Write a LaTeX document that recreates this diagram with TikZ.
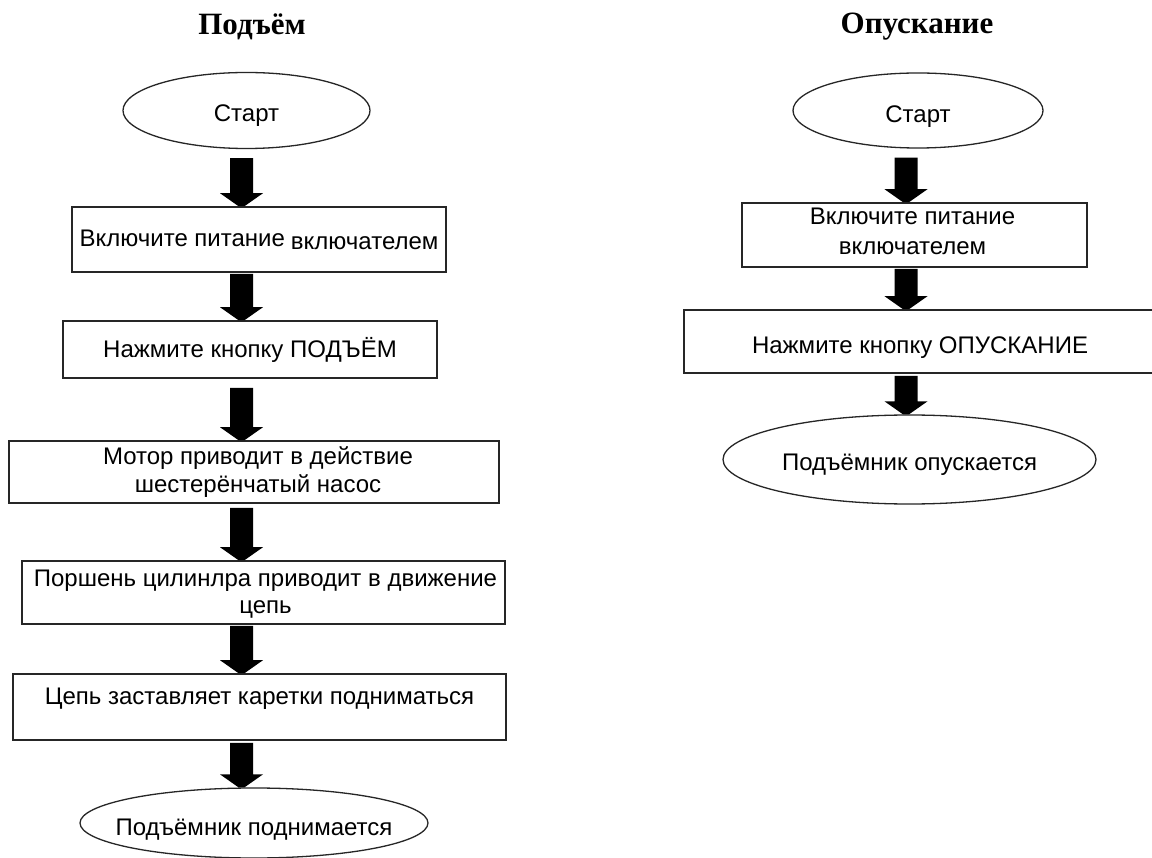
\documentclass[tikz,border=0pt]{standalone}
\usepackage{fontspec}
\setmainfont{Liberation Serif}
\newfontfamily\arialf{Liberation Sans}
\usetikzlibrary{shapes.geometric,calc}
% block arrow from node #1 to node #2 along vertical through coordinate #3, starting #4 below #1
\newcommand\flowarrow[4]{%
  \fill let \p1=(#1.south -| #3), \p2=(#2.north -| #3) in
    (\x1-11.5pt,\y1-#4) -- (\x1+11.5pt,\y1-#4) -- (\x1+11.5pt,\y2+13pt)
    -- (\x1+21.5pt,\y2+13pt) -- (\x1+3pt,\y2) -- (\x1-3pt,\y2)
    -- (\x1-21.5pt,\y2+13pt) -- (\x1-11.5pt,\y2+13pt) -- cycle;}
\newcommand\twolines[2]{\begin{tabular}[t]{@{}c@{}}#1\\#2\end{tabular}}
\begin{document}
\begin{tikzpicture}[x=1pt,y=-1pt,
  stepbox/.style={draw=black!85,line width=1.6pt,rectangle,inner sep=0pt},
  term/.style={draw=black!85,line width=1.3pt,ellipse,inner sep=0pt},
  lbl/.style={anchor=base,inner sep=0pt,font=\arialf\fontsize{24}{28}\selectfont},
  ttl/.style={font=\bfseries\fontsize{31}{36}\selectfont}]
\useasboundingbox (0,0) rectangle (1152,858);
\fill[white] (0,0) rectangle (1152,858);
% left column
\node[ttl] (t1) at (252,27) {Подъём};
\node[term,minimum width=247pt,minimum height=76pt] (l0) at (246.5,110.5) {};
\node[lbl] (l0t) at ($(l0.center)+(0,11.2)$) {Старт};
\node[stepbox,minimum width=374pt,minimum height=65pt] (l1) at (259,239.5) {};
\node[lbl] (l1t) at ($(l1.center)+(0,7.2)$) {Включите питание\hspace{6pt}\raisebox{-3pt}{включателем}};
\node[stepbox,minimum width=374pt,minimum height=57pt] (l2) at (250,349.5) {};
\node[lbl] (l2t) at ($(l2.center)+(0,8.2)$) {Нажмите кнопку ПОДЪЁМ};
\node[stepbox,minimum width=490pt,minimum height=62pt] (l3) at (254,472) {};
\node[lbl] (l3t) at ($(l3.center)+(4,-7)$) {\twolines{Мотор приводит в действие}{шестерёнчатый насос}};
\node[stepbox,minimum width=483pt,minimum height=63pt] (l4) at (263.5,592.5) {};
\node[lbl,font=\arialf\fontsize{24}{26.5}\selectfont] (l4t) at ($(l4.center)+(2,-5.8)$) {\twolines{Поршень цилинлра приводит в движение}{цепь}};
\node[stepbox,minimum width=493pt,minimum height=66pt] (l5) at (259.5,707) {};
\node[lbl] (l5t) at ($(l5.center)+(0,-3)$) {Цепь заставляет каретки подниматься};
\node[term,minimum width=348pt,minimum height=70pt] (l6) at (254,823) {};
\node[lbl] (l6t) at ($(l6.center)+(0,12)$) {Подъёмник поднимается};
% right column
\node[ttl] (t2) at (917,27) {Опускание};
\node[term,minimum width=250pt,minimum height=75pt] (r0) at (918,110.5) {};
\node[lbl] (r0t) at ($(r0.center)+(0,12.2)$) {Старт};
\node[stepbox,minimum width=345pt,minimum height=64pt] (r1) at (914.5,235) {};
\node[lbl,font=\arialf\fontsize{24}{30}\selectfont] (r1t) at ($(r1.center)+(-2,-10)$) {\twolines{Включите питание}{включателем}};
\node[stepbox,minimum width=472pt,minimum height=63pt] (r2) at (920,341.5) {};
\node[lbl] (r2t) at ($(r2.center)+(0,11.8)$) {Нажмите кнопку ОПУСКАНИЕ};
\node[term,minimum width=373pt,minimum height=89pt] (r3) at (909.5,459.5) {};
\node[lbl] (r3t) at ($(r3.center)+(0,11.2)$) {Подъёмник опускается};
% arrow axes
\coordinate (lx) at (241.5,0);
\coordinate (rx) at (906,0);
% connectors
\flowarrow{l0}{l1}{lx}{9pt}
\flowarrow{l1}{l2}{lx}{1pt}
\flowarrow{l2}{l3}{lx}{9pt}
\flowarrow{l3}{l4}{lx}{4pt}
\flowarrow{l4}{l5}{lx}{1pt}
\flowarrow{l5}{l6}{lx}{2pt}
\flowarrow{r0}{r1}{rx}{9pt}
\flowarrow{r1}{r2}{rx}{1pt}
\flowarrow{r2}{r3}{rx}{2pt}
\end{tikzpicture}
\end{document}
